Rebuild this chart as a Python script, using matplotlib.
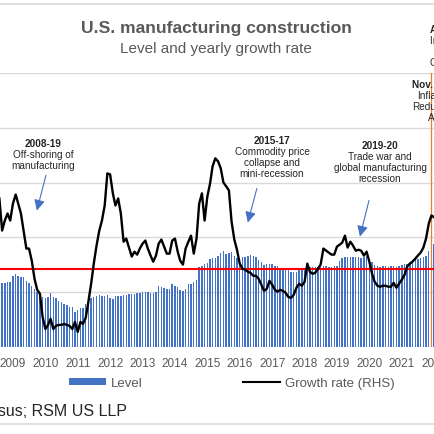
import numpy as np
import pandas as pd
import matplotlib
matplotlib.use('Agg')
import matplotlib.pyplot as plt
import matplotlib.dates as mdates
from matplotlib.lines import Line2D
from matplotlib.patches import Patch

plt.rcParams['font.family'] = ['Liberation Sans', 'DejaVu Sans']

W, H = 435, 435
BLUE = '#4472C4'
GRAY = '#595959'

# monthly, Aug 2008 .. Feb 2022
MONTHS = pd.date_range('2008-08-01', '2022-02-01', freq='MS')

# construction level (left axis, $bn SAAR)
LEVEL = (
    [57.5, 58.4, 58.4, 59.3, 59.3]
    + [64.8, 66.6, 64.8, 63.9, 63.9, 60.2, 58.4, 55.7, 52.9, 50.2, 47.4, 45.6]
    + [44.7, 45.6, 49.3, 45.6, 44.7, 42.0, 41.1, 39.2, 38.3, 36.5, 36.5, 31.9]
    + [33.8, 35.6, 35.6, 39.2, 42.0, 44.7, 45.6, 46.5, 47.4, 46.5, 46.5, 47.4]
    + [44.7, 43.8, 46.5, 46.5, 46.5, 47.4, 47.4, 48.4, 48.4, 48.4, 49.3, 49.3]
    + [50.2, 50.2, 50.2, 49.3, 49.3, 50.2, 55.7, 54.7, 53.8, 52.9, 52.9, 57.5]
    + [55.7, 54.7, 52.0, 51.1, 52.9, 57.5, 57.5, 59.3, 61.1, 73.0, 73.9, 75.7]
    + [76.6, 80.3, 81.2, 81.2, 83.0, 85.8, 87.6, 84.9, 85.8, 86.7, 83.0, 81.2]
    + [81.2, 82.1, 82.1, 83.0, 83.9, 83.0, 82.1, 79.4, 77.6, 74.8, 75.7, 75.7]
    + [75.7, 73.9, 73.9, 71.2, 71.2, 71.2, 71.2, 68.4, 68.4, 68.4, 70.3, 70.3]
    + [70.3, 71.2, 73.0, 73.0, 73.0, 73.0, 73.0, 73.9, 73.9, 73.0, 73.0, 73.9]
    + [73.9, 78.5, 81.2, 82.1, 82.1, 82.1, 82.1, 82.1, 82.1, 81.2, 82.1, 83.0]
    + [78.5, 77.6, 74.8, 73.9, 73.0, 73.9, 73.9, 73.0, 73.9, 73.9, 73.0, 73.9]
    + [74.8, 75.7, 75.7, 76.6, 79.4, 80.3, 80.3, 81.2, 82.1, 83.0, 87.6, 94.0]
    + [94.0, 94.0]
)

# yearly growth rate, % (right axis)
GROWTH = (
    [35.9, 19.5, 24.6, 28.2, 24.6]
    + [33.3, 37.9, 33.3, 28.2, 19.5, 10.3, 10.3, 4.1, -5.1, -10.8, -12.8, -24.6]
    + [-30.8, -28.7, -25.6, -30.8, -29.2, -28.7, -28.7, -28.2, -28.7, -29.2, -30.8, -27.2]
    + [-32.3, -27.2, -28.2, -25.1, -16.9, -7.7, 2.6, 11.8, 19.5, 24.6, 32.3, 48.7]
    + [48.2, 38.5, 32.3, 35.9, 28.2, 13.8, 15.4, 10.8, 6.2, 8.7, 7.2, 10.3]
    + [12.8, 14.4, 10.3, 6.7, 3.6, 6.7, 12.8, 14.9, 11.3, 7.7, 7.7, 14.4]
    + [15.4, 8.7, 4.1, 2.1, 10.3, 13.8, 16.9, 7.7, 15.4, 33.3, 38.5, 24.6]
    + [36.9, 43.6, 52.3, 56.4, 54.9, 51.3, 44.1, 42.1, 40.0, 24.1, 14.9, 9.7]
    + [2.6, 0.0, -0.5, -1.5, -2.1, -3.6, -3.6, -5.1, -8.2, -11.3, -10.3, -6.2]
    + [-8.2, -10.8, -11.8, -10.8, -11.3, -12.3, -14.4, -14.9, -13.3, -9.7, -7.7, -8.7]
    + [-6.7, 2.6, -1.5, -2.6, -2.1, 0.0, 2.1, 10.3, 9.2, 8.2, 7.2, 7.2]
    + [11.3, 12.3, 13.3, 16.9, 10.8, 13.8, 11.8, 9.2, 9.7, 9.2, 6.7, 8.7]
    + [3.6, -2.6, -6.7, -8.7, -9.2, -8.7, -8.7, -9.2, -9.2, -7.2, -9.7, -7.7]
    + [-5.6, -3.1, 1.0, 2.6, 3.6, 5.1, 6.7, 8.2, 10.8, 15.4, 23.1, 27.2]
    + [26.2, 25.6]
)

EVENT_DATE = pd.Timestamp('2021-11-30')

fig = plt.figure(figsize=(W / 100, H / 100), dpi=100)
ax = fig.add_axes([0, 1 - 348 / H, 1, 274 / H])
ax2 = ax.twinx()

ax.bar(MONTHS, LEVEL, width=16, color=BLUE, linewidth=0, zorder=2)
ax.set_ylim(0, 250)
ax.set_yticks([0, 50, 100, 150, 200, 250])
ax.grid(axis='y', color='#D9D9D9', lw=1.0, zorder=0)
ax.set_axisbelow(True)

ax2.plot(MONTHS, GROWTH, color='black', lw=1.7, zorder=3)
ax2.axhline(0, color='#FF0000', lw=1.5, zorder=2)
ax2.axvline(EVENT_DATE, color='#ED7D31', lw=0.9, zorder=1)
ax2.set_ylim(-40, 100)

ax.set_xlim(pd.Timestamp('2008-08-08'), pd.Timestamp('2022-01-10'))
ax.xaxis.set_major_locator(mdates.YearLocator())
ax.xaxis.set_major_formatter(mdates.DateFormatter('%Y'))
ax.tick_params(axis='x', length=0, pad=7, labelsize=8.5, labelcolor=GRAY)
ax.tick_params(axis='y', left=False, labelleft=False)
ax2.tick_params(axis='y', right=False, labelright=False)
for a in (ax, ax2):
    for s in a.spines.values():
        s.set_visible(False)

# arrows (date, growth %)
ARROWS = [
    (('2010-01-08', 47.7), ('2009-09-27', 29.7)),
    (('2016-07-12', 41.0), ('2016-04-01', 23.6)),
    (('2019-12-28', 34.9), ('2019-09-17', 16.4)),
]
for (d0, g0), (d1, g1) in ARROWS:
    ax2.annotate('', xy=(pd.Timestamp(d1), g1), xytext=(pd.Timestamp(d0), g0),
                 arrowprops=dict(arrowstyle='-|>', color=BLUE, lw=0.8,
                                 mutation_scale=16, shrinkA=0, shrinkB=0))


def note(xp, yp, lines, size=7.2, step=11, ha='center'):
    for i, s in enumerate(lines):
        fig.text(xp / W, 1 - (yp + i * step) / H, s, ha=ha, va='center',
                 fontsize=size, color='#262626',
                 fontweight='bold' if i == 0 else 'normal')


note(43, 144, ['2008-19', 'Off-shoring of', 'manufacturing'])
note(272, 141, ['2015-17', 'Commodity price', 'collapse and', 'mini-recession'])
note(380, 146, ['2019-20', 'Trade war and', 'global manufacturing', 'recession'])
note(435, 85, ['Nov. 2021', 'Inflation', 'Reduction', 'Act'])
note(430, 30, ['Aug. 2022', 'Inflation Reduction Act', '', 'CHIPS and Science Act'], ha='left')

fig.text(216 / W, 1 - 29 / H, 'U.S. manufacturing construction', ha='center', va='center',
         fontsize=12.6, fontweight='bold', color=GRAY)
fig.text(216 / W, 1 - 49 / H, 'Level and yearly growth rate', ha='center', va='center',
         fontsize=11, color=GRAY)

for yp in (5, 425):
    fig.add_artist(Line2D([0, 1], [1 - yp / H] * 2, color='#D9D9D9', lw=1.2))

fig.legend(handles=[Patch(facecolor=BLUE, linewidth=0),
                    Line2D([], [], color='black', lw=1.5)],
           labels=['Level', 'Growth rate (RHS)'], ncol=2, loc='center',
           bbox_to_anchor=(232 / W, 1 - 384 / H), frameon=False, fontsize=9.5,
           handlelength=2.8, handleheight=0.5, handletextpad=0.4,
           columnspacing=7.6, labelcolor=GRAY)

fig.text(127 / W, 1 - 412 / H, 'Source: U.S. Census; RSM US LLP', ha='right', va='center',
         fontsize=11.5, color='#262626')

fig.savefig('out.png', dpi=100)
